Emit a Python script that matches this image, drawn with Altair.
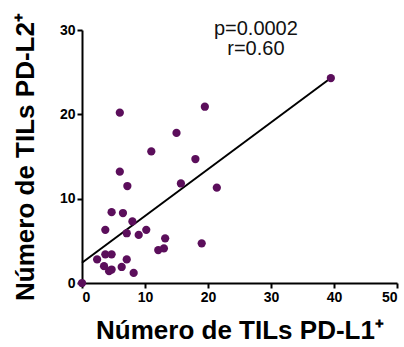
import altair as alt
import pandas as pd

# Scatter data
pd_l1 = [0, 39.5, 19.5, 6.0, 15.0, 11.0, 18.0, 6.0, 7.2, 15.7, 21.4, 4.7, 6.5, 8.0, 3.7,
         7.1, 9.0, 10.2, 13.2, 12.1, 13.0, 19.0, 3.7, 4.7, 2.4, 7.1, 3.5, 6.3, 4.3, 4.7, 8.2]
pd_l2 = [0, 24.3, 20.9, 20.2, 17.8, 15.6, 14.7, 13.2, 11.5, 11.8, 11.3, 8.4, 8.3, 7.3, 6.3,
         5.9, 5.7, 6.3, 5.3, 3.9, 4.1, 4.7, 3.4, 3.4, 2.8, 2.8, 2.0, 1.9, 1.4, 1.6, 1.2]

# Regression line endpoints
fit_x = [0, 39.5]
fit_y = [2.4, 24.3]

x_ticks = [0, 10, 20, 30, 40, 50]
y_ticks = [0, 10, 20, 30]

ann_lines = ["p=0.0002", "r=0.60"]
ann_x = [27.6, 27.6]
ann_y = [29.4, 27.0]

pts = pd.DataFrame({"x": pd_l1, "y": pd_l2})
fit = pd.DataFrame({"x": fit_x, "y": fit_y})
ann = pd.DataFrame({"t": ann_lines, "x": ann_x, "y": ann_y})

FONT = "Liberation Sans"

xscale = alt.Scale(domain=[0, 50], nice=False, zero=False)
yscale = alt.Scale(domain=[0, 30], nice=False, zero=False)

xaxis = alt.Axis(values=x_ticks, title="Número de TILs PD-L1⁺", titleFontSize=26,
                 titlePadding=13)
yaxis = alt.Axis(values=y_ticks, title="Número de TILs PD-L2⁺", titleFontSize=26,
                 titlePadding=21)

points = alt.Chart(pts).mark_circle(size=68, opacity=1, color="#5B0E5B").encode(
    x=alt.X("x:Q", scale=xscale, axis=xaxis),
    y=alt.Y("y:Q", scale=yscale, axis=yaxis),
)

line = alt.Chart(fit).mark_line(color="black", strokeWidth=2).encode(
    x=alt.X("x:Q", scale=xscale),
    y=alt.Y("y:Q", scale=yscale),
)

text = alt.Chart(ann).mark_text(font=FONT, fontSize=20, color="#111111",
                                align="center", baseline="alphabetic").encode(
    x=alt.X("x:Q", scale=xscale),
    y=alt.Y("y:Q", scale=yscale),
    text="t:N",
)

chart = alt.layer(line, points, text).properties(
    width=315, height=253,
    autosize="none",
    padding={"left": 82, "top": 30, "right": 7, "bottom": 64},
).configure_view(stroke=None).configure_axis(
    grid=False,
    domainColor="black", domainWidth=2,
    tickColor="black", tickWidth=2, tickSize=5,
    labelFont=FONT, labelFontWeight="bold", labelFontSize=14, labelColor="black",
    labelPadding=2,
    titleFont=FONT, titleFontWeight="bold", titleColor="black",
)

chart.save("out.html", embed_options={"renderer": "svg", "actions": False})
